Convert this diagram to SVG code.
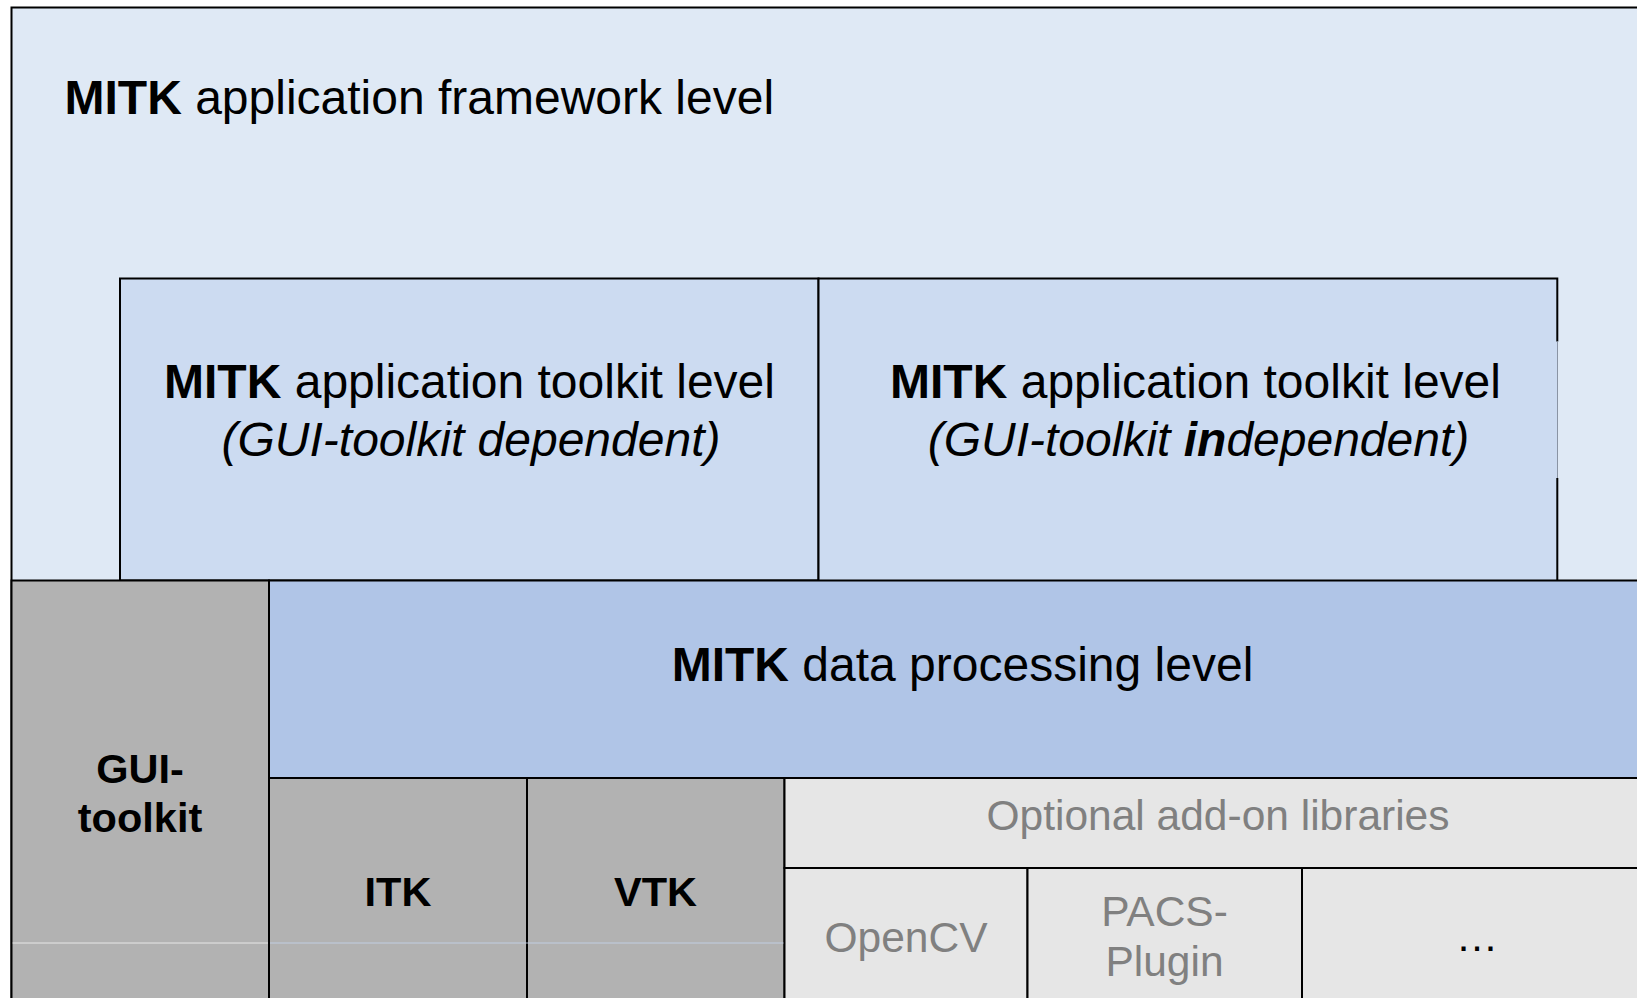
<svg xmlns="http://www.w3.org/2000/svg" width="1637" height="998" viewBox="0 0 1637 998">
<style>
.box{stroke:#000;stroke-width:2}
.t{font-family:"Liberation Sans",Arial,sans-serif;fill:#000}
.big{font-size:48px}
.mid{font-size:41.5px;font-weight:bold;text-anchor:middle}
.opt{font-size:42.5px;fill:#808080;text-anchor:middle}
.dots{font-size:42.5px;fill:#000;text-anchor:middle}
.c{text-anchor:middle}
.b{font-weight:bold}
</style>
<rect x="0" y="0" width="1637" height="998" fill="#ffffff"/>
<g id="framework">
<rect class="box" x="11.5" y="7.5" width="1700" height="1100" fill="#DFE9F5"/>
<text class="t big" x="64.5" y="114"><tspan class="b">MITK</tspan> application framework level</text>
</g>
<g id="toolkit-dependent">
<rect class="box" x="120" y="278.5" width="698.5" height="302" fill="#CCDBF1"/>
<text class="t big c" x="469.5" y="398"><tspan class="b">MITK</tspan> application toolkit level</text>
<text class="t big c" x="471" y="455.5" font-style="italic">(GUI-toolkit dependent)</text>
</g>
<g id="toolkit-independent">
<rect x="818.5" y="278.5" width="738.5" height="302" fill="#CCDBF1"/>
<path d="M818.5 580.5 V278.5 H1557.3 V341.5 M1557.3 478 V580.5" fill="none" stroke="#000" stroke-width="2"/>
<line x1="1557.5" y1="341.5" x2="1557.5" y2="478" stroke="#8a94a4" stroke-width="1"/>
<text class="t big c" x="1195.5" y="398"><tspan class="b">MITK</tspan> application toolkit level</text>
<text class="t big c" x="1198.5" y="455.5" font-style="italic">(GUI-toolkit <tspan class="b">in</tspan>dependent)</text>
</g>
<g id="gui-toolkit">
<rect class="box" x="11.5" y="580.5" width="257.5" height="500" fill="#B2B2B2"/>
<text class="t mid" x="140" y="783">GUI-</text>
<text class="t mid" x="140" y="832">toolkit</text>
</g>
<g id="data-processing">
<rect class="box" x="269" y="580.5" width="1500" height="197.5" fill="#B0C5E7"/>
<text class="t big c" x="962.5" y="680.5"><tspan class="b">MITK</tspan> data processing level</text>
</g>
<g id="itk">
<rect class="box" x="269" y="778" width="258" height="300" fill="#B2B2B2"/>
<text class="t mid" x="398" y="906">ITK</text>
</g>
<g id="vtk">
<rect class="box" x="527" y="778" width="257.5" height="300" fill="#B2B2B2"/>
<text class="t mid" x="655.5" y="906">VTK</text>
</g>
<g id="optional">
<rect class="box" x="784.5" y="778" width="1000" height="90" fill="#E6E6E6"/>
<text class="t opt" x="1218" y="830">Optional add-on libraries</text>
</g>
<g id="opencv">
<rect class="box" x="784.5" y="868" width="243" height="200" fill="#E6E6E6"/>
<text class="t opt" x="906" y="952">OpenCV</text>
</g>
<g id="pacs">
<rect class="box" x="1027.5" y="868" width="274.5" height="200" fill="#E6E6E6"/>
<text class="t opt" x="1164.5" y="926">PACS-</text>
<text class="t opt" x="1164.5" y="976">Plugin</text>
</g>
<g id="more">
<rect class="box" x="1302" y="868" width="500" height="200" fill="#E6E6E6"/>
<text class="t dots" x="1477" y="951">…</text>
</g>
<g id="artifacts">
<line x1="12.5" y1="943" x2="268" y2="943" stroke="#ffffff" stroke-width="1" opacity="0.7"/>
<line x1="270" y1="943" x2="783.5" y2="943" stroke="#C5D6EE" stroke-width="1" opacity="0.8"/>
</g>
<g id="connectors"/>
</svg>
